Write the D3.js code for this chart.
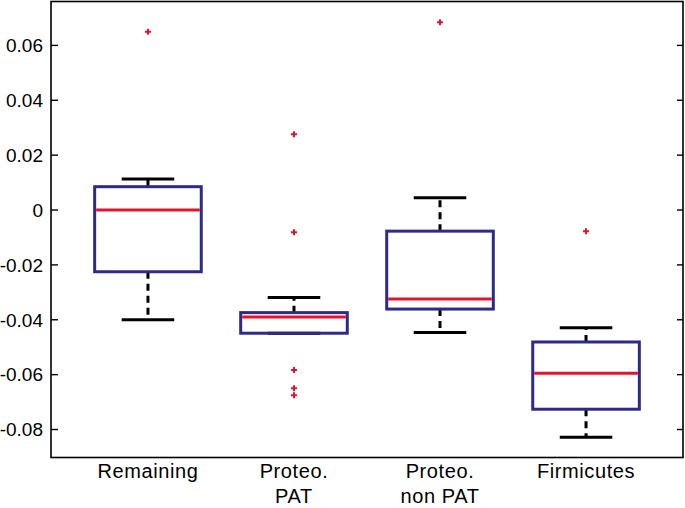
<!DOCTYPE html>
<html><head><meta charset="utf-8">
<script src="https://cdn.jsdelivr.net/npm/d3@7"></script>
<style>body{margin:0;background:#fff}svg{display:block}text{font-family:"Liberation Sans",Arial,Helvetica,sans-serif}</style>
</head><body><svg id="c" width="685" height="508"></svg>
<script>
const categories = [["Remaining"],["Proteo.","PAT"],["Proteo.","non PAT"],["Firmicutes"]];
const lowerWhisker = [-0.0400, -0.0449, -0.0446, -0.0828];
const q1 = [-0.0225, -0.0449, -0.0361, -0.0726];
const median = [0.0000, -0.0390, -0.0324, -0.0595];
const q3 = [0.0085, -0.0374, -0.0077, -0.0481];
const upperWhisker = [0.0113, -0.0319, 0.0045, -0.0429];
const outliers = [[0.0650], [0.0276, -0.0081, -0.0583, -0.0650, -0.0675], [0.0684], [-0.0077]];
const yTicks = [-0.08, -0.06, -0.04, -0.02, 0, 0.02, 0.04, 0.06];
const yTickLabels = ["-0.08","-0.06","-0.04","-0.02","0","0.02","0.04","0.06"];

const svg = d3.select("#c");
const L = 51, R = 683, T = 1.5, B = 457.5;
const y = d3.scaleLinear().domain([-0.0902, 0.0760]).range([B, T]);
const x = d3.scalePoint().domain(d3.range(categories.length)).range([L, R]).padding(0.664);
const step = x.step();
const boxW = step * 0.73, capW = step * 0.36;
const blue = "#2f2a87", red = "#e3132b";

const g = svg.append("g");
categories.forEach((c, i) => {
  const cx = x(i);
  g.append("line").attr("x1", cx).attr("x2", cx).attr("y1", y(q3[i])).attr("y2", y(upperWhisker[i]))
    .attr("stroke", "#000").attr("stroke-width", 3).attr("stroke-dasharray", "7,5");
  g.append("line").attr("x1", cx).attr("x2", cx).attr("y1", y(q1[i])).attr("y2", y(lowerWhisker[i]))
    .attr("stroke", "#000").attr("stroke-width", 3).attr("stroke-dasharray", "7,5");
  [upperWhisker[i], lowerWhisker[i]].forEach(v => {
    g.append("line").attr("x1", cx - capW/2).attr("x2", cx + capW/2).attr("y1", y(v)).attr("y2", y(v))
      .attr("stroke", "#000").attr("stroke-width", 3);
  });
  g.append("rect").attr("x", cx - boxW/2).attr("y", y(q3[i])).attr("width", boxW)
    .attr("height", y(q1[i]) - y(q3[i])).attr("fill", "none").attr("stroke", blue).attr("stroke-width", 3);
  g.append("line").attr("x1", cx - boxW/2 + 1.5).attr("x2", cx + boxW/2 - 1.5).attr("y1", y(median[i])).attr("y2", y(median[i]))
    .attr("stroke", red).attr("stroke-width", 3);
  outliers[i].forEach(v => {
    const py = y(v), s = 3;
    g.append("path").attr("d", `M${cx-s},${py}H${cx+s}M${cx},${py-s}V${py+s}`)
      .attr("stroke", red).attr("stroke-width", 2).attr("fill", "none");
  });
});

svg.append("rect").attr("x", L).attr("y", T).attr("width", R - L).attr("height", B - T)
  .attr("fill", "none").attr("stroke", "#000").attr("stroke-width", 1.6);

yTicks.forEach((t, k) => {
  const py = y(t);
  svg.append("line").attr("x1", L).attr("x2", L + 7).attr("y1", py).attr("y2", py).attr("stroke", "#000").attr("stroke-width", 1.4);
  svg.append("line").attr("x1", R - 6).attr("x2", R).attr("y1", py).attr("y2", py).attr("stroke", "#000").attr("stroke-width", 1.4);
  svg.append("text").attr("x", 43).attr("y", py).attr("dy", "0.36em").attr("text-anchor", "end")
    .attr("font-size", 19).attr("fill", "#000").text(yTickLabels[k]);
});

categories.forEach((lines, i) => {
  const t = svg.append("text").attr("text-anchor", "middle").attr("font-size", 20)
    .attr("letter-spacing", "0.6px").attr("fill", "#000");
  lines.forEach((s, j) => t.append("tspan").attr("x", x(i)).attr("y", 477.5 + j * 25).text(s));
});
</script></body></html>
